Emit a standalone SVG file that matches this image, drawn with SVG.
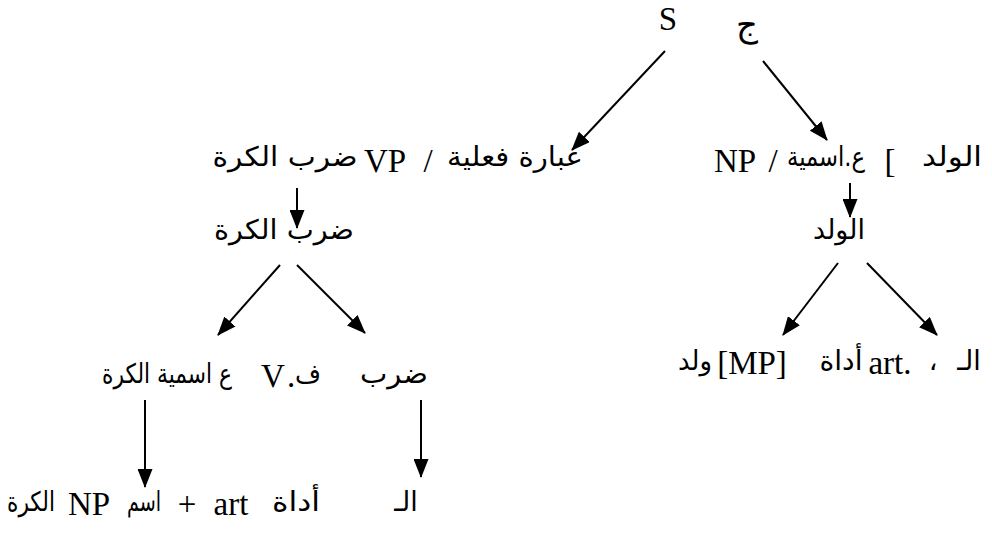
<svg xmlns="http://www.w3.org/2000/svg" width="992" height="550" viewBox="0 0 992 550">
  <style>
    .lat { font-family: "Liberation Serif", "Times New Roman", serif; font-size: 33px; fill: #000; text-anchor: middle; }
    .ar { font-family: "DejaVu Sans", "Noto Sans", sans-serif; font-size: 27px; fill: #000; text-anchor: middle; }
    .edge { stroke: #000; stroke-width: 2; fill: none; marker-end: url(#head); }
  </style>
  <defs>
    <marker id="head" markerUnits="userSpaceOnUse" markerWidth="19" markerHeight="15" refX="18" refY="7.5" orient="auto">
      <path d="M0,0 L19,7.5 L0,15 z" fill="#000"/>
    </marker>
  </defs>
  <rect width="992" height="550" fill="#fff"/>

  <!-- tree connectors -->
  <g id="connectors">
    <line class="edge" x1="665" y1="51" x2="572" y2="150"/>
    <line class="edge" x1="763" y1="61" x2="827" y2="140"/>
    <line class="edge" x1="297" y1="188" x2="297" y2="228"/>
    <line class="edge" x1="850" y1="183" x2="850" y2="217"/>
    <line class="edge" x1="280" y1="265" x2="218" y2="335"/>
    <line class="edge" x1="297" y1="265" x2="365" y2="333"/>
    <line class="edge" x1="838" y1="263" x2="783" y2="335"/>
    <line class="edge" x1="867" y1="263" x2="937" y2="335"/>
    <line class="edge" x1="145" y1="400" x2="145" y2="487"/>
    <line class="edge" x1="421" y1="400" x2="421" y2="477"/>
  </g>

  <!-- root labels -->
  <g id="root-s">
    <text class="lat" x="668" y="30">S</text>
  </g>
  <g id="root-jim">
    <text class="ar" x="747" y="36" style="font-size:34px">ج</text>
  </g>

  <!-- verb phrase -->
  <g id="vp">
    <text class="ar" x="285" y="166" textLength="145" lengthAdjust="spacingAndGlyphs">ضرب الكرة</text>
    <text class="lat" x="385" y="172">VP</text>
    <text class="lat" x="428" y="172">/</text>
    <text class="ar" x="515" y="166" textLength="136" lengthAdjust="spacingAndGlyphs">عبارة فعلية</text>
  </g>

  <!-- noun phrase -->
  <g id="np">
    <text class="lat" x="735" y="172">NP</text>
    <text class="lat" x="773" y="172">/</text>
    <text class="ar" x="826" y="166" textLength="78" lengthAdjust="spacingAndGlyphs">ع.اسمية</text>
    <text class="lat" x="890" y="172">[</text>
    <text class="ar" x="952" y="166" textLength="60" lengthAdjust="spacingAndGlyphs">الولد</text>
  </g>

  <g id="vp-words">
    <text class="ar" x="284" y="239" textLength="140" lengthAdjust="spacingAndGlyphs">ضرب الكرة</text>
  </g>

  <g id="np-word">
    <text class="ar" x="839" y="239" textLength="52" lengthAdjust="spacingAndGlyphs">الولد</text>
  </g>

  <!-- verb phrase parts -->
  <g id="vp-parts">
    <text class="ar" x="167" y="383" textLength="130" lengthAdjust="spacingAndGlyphs">ع اسمية الكرة</text>
    <text class="lat" x="273" y="387">V</text>
    <text class="lat" x="291" y="387">.</text>
    <text class="ar" x="308" y="383" textLength="26" lengthAdjust="spacingAndGlyphs">ف</text>
    <text class="ar" x="394" y="383" textLength="68" lengthAdjust="spacingAndGlyphs">ضرب</text>
  </g>

  <!-- noun phrase parts -->
  <g id="np-parts">
    <text class="ar" x="695" y="370" textLength="34" lengthAdjust="spacingAndGlyphs">ولد</text>
    <text class="lat" x="752" y="374">[MP]</text>
    <text class="ar" x="841" y="370" textLength="43" lengthAdjust="spacingAndGlyphs">أداة</text>
    <text class="lat" x="890" y="374">art.</text>
    <text class="ar" x="933" y="370">،</text>
    <text class="ar" x="969" y="370">الـ</text>
  </g>

  <!-- noun phrase expansion -->
  <g id="np-expansion">
    <text class="ar" x="31" y="511" textLength="48" lengthAdjust="spacingAndGlyphs">الكرة</text>
    <text class="lat" x="89" y="515">NP</text>
    <text class="ar" x="144" y="511" textLength="34" lengthAdjust="spacingAndGlyphs">اسم</text>
    <text class="lat" x="187" y="515">+</text>
    <text class="lat" x="231" y="515">art</text>
    <text class="ar" x="296" y="511" textLength="48" lengthAdjust="spacingAndGlyphs">أداة</text>
    <text class="ar" x="406" y="511">الـ</text>
  </g>
</svg>
